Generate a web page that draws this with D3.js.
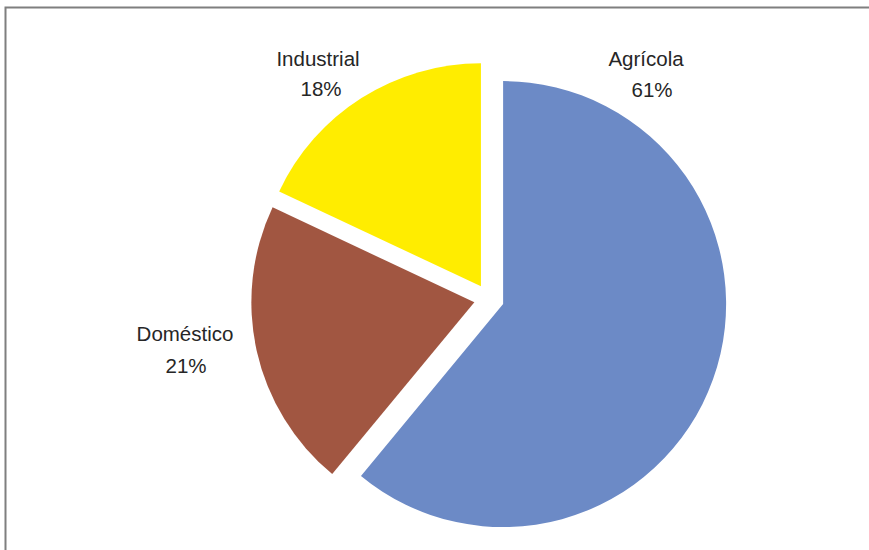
<!DOCTYPE html>
<html>
<head>
<meta charset="utf-8">
<script src="https://cdn.jsdelivr.net/npm/d3@7/dist/d3.min.js"></script>
<style>
  html, body { margin: 0; padding: 0; background: #fff; }
  svg { display: block; }
</style>
</head>
<body>
<svg id="chart" width="869" height="550"></svg>
<script>
// Data
const categories = ["Agrícola", "Doméstico", "Industrial"];
const values = [61, 21, 18];
const percentLabels = ["61%", "21%", "18%"];
const colors = ["#6C8AC6", "#A15641", "#FFED00"];

// Layout (not data)
const W = 869, H = 550;
const cx = 489, cy = 299, radius = 223, explode = 15;
const labelPos = [
  { x1: 646, y1: 66, x2: 652, y2: 97 },   // Agrícola
  { x1: 185, y1: 341, x2: 186, y2: 373 }, // Doméstico
  { x1: 318, y1: 66, x2: 321, y2: 96 }    // Industrial
];

const svg = d3.select("#chart");

// Frame
svg.append("path")
  .attr("d", `M5.5,${H} V7.5 H${W}`)
  .attr("fill", "none")
  .attr("stroke", "#7f7f7f")
  .attr("stroke-width", 2);

const pie = d3.pie().sort(null).value(d => d)(values);
const arc = d3.arc().innerRadius(0).outerRadius(radius);

const g = svg.append("g").attr("transform", `translate(${cx},${cy})`);

g.selectAll("path.slice")
  .data(pie)
  .enter()
  .append("path")
  .attr("class", "slice")
  .attr("fill", (d, i) => colors[i])
  .attr("transform", d => {
    const a = (d.startAngle + d.endAngle) / 2;
    return `translate(${explode * Math.sin(a)},${-explode * Math.cos(a)})`;
  })
  .attr("d", arc);

const labels = svg.append("g")
  .attr("font-family", "Liberation Sans, Arial, sans-serif")
  .attr("font-size", 20.5)
  .attr("fill", "#262626")
  .attr("text-anchor", "middle");

categories.forEach((c, i) => {
  labels.append("text").attr("x", labelPos[i].x1).attr("y", labelPos[i].y1).text(c);
  labels.append("text").attr("x", labelPos[i].x2).attr("y", labelPos[i].y2).text(percentLabels[i]);
});
</script>
</body>
</html>
